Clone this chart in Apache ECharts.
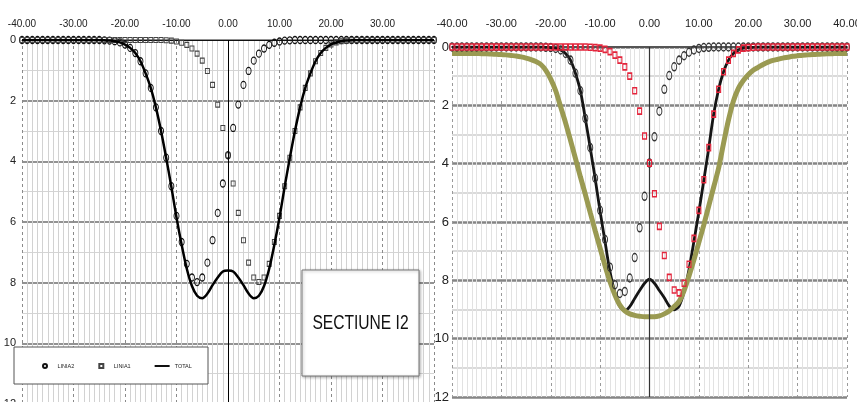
<!DOCTYPE html>
<html><head><meta charset="utf-8">
<script src="https://cdn.jsdelivr.net/npm/echarts@6/dist/echarts.min.js"></script>
<style>html,body{margin:0;padding:0;background:#fff}#c{width:857px;height:402px}</style>
</head><body><div id="c"></div>
<script>
// x positions (m)
const X_POS = [-40,-39,-38,-37,-36,-35,-34,-33,-32,-31,-30,-29,-28,-27,-26,-25,-24,-23,-22,-21,
  -20,-19,-18,-17,-16,-15,-14,-13,-12,-11,-10,-9,-8,-7,-6,-5,-4,-3,-2,-1,
  0,1,2,3,4,5,6,7,8,9,10,11,12,13,14,15,16,17,18,19,
  20,21,22,23,24,25,26,27,28,29,30,31,32,33,34,35,36,37,38,39,40];

// LEFT chart (SECTIUNE I2)
const L_LINIA2 = [0,0,0,0,0,0,0,0,0,0,0,0,0,0,0,0,
  0.01,0.02,0.04,0.08,0.15,0.26,0.43,0.7,1.1,1.58,
  2.22,3.0,3.88,4.82,5.8,6.66,7.38,7.83,7.98,7.83,
  7.34,6.6,5.7,4.73,3.8,2.9,2.13,1.48,1.02,0.68,
  0.45,0.28,0.16,0.09,0.05,0.02,0.01,
  0,0,0,0,0,0,0,0,0,0,0,0,0,0,0,0,0,0,0,0,0,0,0,0,0,0,0,0];
const L_LINIA1 = [0,0,0,0,0,0,0,0,0,0,0,0,0,0,0,0,0,0,0,0,0,0,0,0,0,0,0,0,
  0.01,0.02,0.05,0.09,0.16,0.28,0.45,0.68,1.02,1.48,
  2.13,2.9,3.8,4.73,5.7,6.6,7.34,7.83,7.98,7.83,
  7.38,6.66,5.8,4.82,3.88,3.0,2.22,1.58,1.1,0.7,
  0.43,0.26,0.15,0.08,0.04,0.02,0.01,
  0,0,0,0,0,0,0,0,0,0,0,0,0,0,0,0];
const L_TOTAL = [0,0,0,0,0,0,0,0,0,0,0,0,0,0,0,0,
  0.01,0.02,0.04,0.08,0.15,0.26,0.43,0.7,1.1,1.58,
  2.22,3.0,3.89,4.84,5.85,6.75,7.54,8.11,8.43,8.51,
  8.36,8.08,7.83,7.63,7.6,7.63,7.83,8.08,8.36,8.51,
  8.43,8.11,7.54,6.75,5.85,4.84,3.89,3.0,2.22,1.58,
  1.1,0.7,0.43,0.26,0.15,0.08,0.04,0.02,0.01,
  0,0,0,0,0,0,0,0,0,0,0,0,0,0,0,0];

// RIGHT chart
const R_LINIA2 = [0,0,0,0,0,0,0,0,0,0,0,0,0,0,0,0,0,0,0,
  0.01,0.02,0.05,0.1,0.22,0.45,0.9,1.5,2.45,3.45,
  4.5,5.6,6.6,7.55,8.15,8.45,8.38,7.92,7.22,6.2,
  5.12,3.98,3.08,2.2,1.45,0.98,0.68,0.45,0.3,0.18,
  0.1,0.05,0.02,0.01,
  0,0,0,0,0,0,0,0,0,0,0,0,0,0,0,0,0,0,0,0,0,0,0,0,0,0,0,0];
const R_LINIA1 = [0,0,0,0,0,0,0,0,0,0,0,0,0,0,0,0,0,0,0,0,0,0,0,0,0,0,0,0,
  0.01,0.02,0.04,0.08,0.16,0.28,0.45,0.68,1.0,1.5,
  2.2,3.05,3.98,5.03,6.15,7.15,7.9,8.33,8.43,8.1,
  7.45,6.56,5.6,4.55,3.45,2.3,1.45,0.85,0.45,0.22,
  0.1,0.04,0.02,0.01,
  0,0,0,0,0,0,0,0,0,0,0,0,0,0,0,0,0,0,0];
const R_TOTAL = [0,0,0,0,0,0,0,0,0,0,0,0,0,0,0,0,0,0,0,
  0.01,0.02,0.05,0.1,0.22,0.45,0.9,1.5,2.45,3.46,
  4.52,5.64,6.68,7.71,8.43,8.9,9.04,8.9,8.62,8.35,
  8.1,7.96,8.1,8.35,8.6,8.88,9.01,8.88,8.4,7.63,
  6.66,5.65,4.57,3.46,2.3,1.45,0.85,0.45,0.22,0.1,
  0.04,0.02,0.01,
  0,0,0,0,0,0,0,0,0,0,0,0,0,0,0,0,0,0,0];
const R_CONTUR = [0.22,0.22,0.22,0.22,0.22,0.22,0.23,0.23,0.24,0.25,
  0.26,0.27,0.29,0.31,0.34,0.38,0.43,0.5,0.6,0.8,
  1.1,1.5,2.05,2.6,3.2,3.82,4.45,5.05,5.68,6.3,
  6.9,7.5,8.05,8.5,8.85,9.05,9.15,9.2,9.23,9.25,
  9.25,9.25,9.22,9.15,9.05,8.9,8.72,8.35,7.85,7.3,
  6.7,6.1,5.45,4.8,4.15,3.3,2.5,1.85,1.42,1.15,
  0.95,0.8,0.7,0.6,0.52,0.46,0.42,0.38,0.35,0.32,
  0.3,0.28,0.27,0.26,0.25,0.24,0.23,0.23,0.22,0.22,0.22];

const LEGEND_NAMES = ['LINIA2', 'LINIA1', 'TOTAL'];
const TITLE_TEXT = 'SECTIUNE I2';

const FONT = "'Liberation Sans',Arial,sans-serif";
const pairs = a => X_POS.map((x, i) => [x, a[i]]);

function xAx(gi, o) {
  return {
    gridIndex: gi, type: 'value', min: -40, max: 40, interval: 10, position: 'top',
    axisLine: { show: true, onZero: false, lineStyle: { color: o.axisColor, width: o.axisWidth } },
    axisTick: { show: false },
    axisLabel: { formatter: v => v.toFixed(2), fontSize: o.fs, color: '#222', margin: o.margin, fontFamily: FONT,
      showMaxLabel: o.showMax },
    splitLine: { show: true, lineStyle: { color: o.major, type: [3, 3], width: 1 } },
    minorTick: { show: false, splitNumber: 10 },
    minorSplitLine: { show: true, lineStyle: { color: o.minor, width: 1 } }
  };
}
function yAx(gi, o) {
  return {
    gridIndex: gi, type: 'value', inverse: true, min: 0, max: 12, interval: 2,
    axisLine: { show: false }, axisTick: { show: false },
    axisLabel: { fontSize: o.fs, color: '#222', margin: o.margin, fontFamily: FONT },
    splitLine: { show: true, lineStyle: { color: o.major, width: o.majorW } },
    minorTick: { show: false, splitNumber: 2 },
    minorSplitLine: { show: true, lineStyle: { color: o.minor, width: o.minorW } }
  };
}

const chart = echarts.init(document.getElementById('c'), null, { renderer: 'canvas' });
chart.setOption({
  animation: false,
  backgroundColor: '#fff',
  grid: [
    { left: 22, top: 40, width: 412, height: 364, containLabel: false, outerBoundsMode: 'none' },
    { left: 452, top: 47, width: 395, height: 350, containLabel: false, outerBoundsMode: 'none' }
  ],
  xAxis: [
    xAx(0, { axisColor: '#111', axisWidth: 1, fs: 10, margin: 11, major: '#8a8a8a', minor: '#d2d2d2', showMax: false }),
    xAx(1, { axisColor: '#555', axisWidth: 2, fs: 11, margin: 18, major: '#9a9a9a', minor: '#e2e2e2', showMax: true })
  ],
  yAxis: [
    yAx(0, { fs: 11, margin: 6, major: '#6e6e6e', majorW: 1.5, minor: '#d4d4d4', minorW: 1 }),
    yAx(1, { fs: 13, margin: 3, major: '#858585', majorW: 2.5, minor: '#dadada', minorW: 2 })
  ],
  legend: {
    data: [
      { name: LEGEND_NAMES[0], icon: 'circle' },
      { name: LEGEND_NAMES[1], icon: 'path://M0,0h10v10h-10z' },
      { name: LEGEND_NAMES[2], icon: 'path://M0,0h40v5h-40z' }
    ],
    left: 42, top: 363, itemWidth: 15, itemHeight: 4, itemGap: 24,
    padding: 0, z: 10, selectedMode: false,
    textStyle: { fontSize: 5.5, color: '#222', fontFamily: FONT }
  },
  series: [
    { name: 'LINIA2', type: 'line', xAxisIndex: 0, yAxisIndex: 0, data: pairs(L_LINIA2),
      symbol: 'circle', symbolSize: [5, 7], showAllSymbol: true, lineStyle: { width: 0 },
      itemStyle: { color: 'rgba(255,255,255,0)', borderColor: '#111', borderWidth: 1.1 }, z: 3 },
    { name: 'LINIA1', type: 'line', xAxisIndex: 0, yAxisIndex: 0, data: pairs(L_LINIA1),
      symbol: 'rect', symbolSize: [4, 5], showAllSymbol: true, lineStyle: { width: 0 },
      itemStyle: { color: 'rgba(255,255,255,0)', borderColor: '#444', borderWidth: 1 }, z: 3 },
    { name: 'TOTAL', type: 'line', xAxisIndex: 0, yAxisIndex: 0, data: pairs(L_TOTAL),
      symbol: 'none', smooth: 0.3, lineStyle: { color: '#000', width: 2.5 }, itemStyle: { color: '#000' }, z: 4,
      markLine: { silent: true, symbol: 'none', label: { show: false },
        lineStyle: { color: '#000', width: 1, type: 'solid' }, data: [{ xAxis: 0 }] } },

    { name: 'Total dreapta', type: 'line', xAxisIndex: 1, yAxisIndex: 1, data: pairs(R_TOTAL),
      symbol: 'none', smooth: 0.3, lineStyle: { color: '#151515', width: 2.8 }, itemStyle: { color: '#151515' }, z: 3,
      markLine: { silent: true, symbol: 'none', label: { show: false },
        lineStyle: { color: '#333', width: 1.2, type: 'solid' }, data: [{ xAxis: 0 }] } },
    { name: 'Contur', type: 'line', xAxisIndex: 1, yAxisIndex: 1, data: pairs(R_CONTUR),
      symbol: 'none', smooth: 0.3, lineStyle: { color: '#9a9a52', width: 5 }, itemStyle: { color: '#9a9a52' }, z: 4 },
    { name: 'Linia2 dreapta', type: 'line', xAxisIndex: 1, yAxisIndex: 1, data: pairs(R_LINIA2),
      symbol: 'circle', symbolSize: [5, 8], showAllSymbol: true, lineStyle: { width: 0 },
      itemStyle: { color: 'rgba(255,255,255,0)', borderColor: '#333', borderWidth: 1.2 }, z: 5 },
    { name: 'Linia1 dreapta', type: 'line', xAxisIndex: 1, yAxisIndex: 1, data: pairs(R_LINIA1),
      symbol: 'rect', symbolSize: [4, 6], showAllSymbol: true, lineStyle: { width: 0 },
      itemStyle: { color: 'rgba(255,255,255,0)', borderColor: '#e3243b', borderWidth: 1.3 }, z: 6 }
  ],
  graphic: [
    { type: 'rect', shape: { x: 14, y: 347, width: 194, height: 37 },
      style: { fill: '#fff', stroke: '#555', lineWidth: 1 }, z: 5 },
    { type: 'rect', shape: { x: 302, y: 270, width: 117, height: 106 },
      style: { fill: '#fff', stroke: '#777', lineWidth: 1, shadowBlur: 3, shadowColor: 'rgba(0,0,0,0.3)', shadowOffsetX: 1, shadowOffsetY: 1 }, z: 5 },
    { type: 'text', x: 360.5, y: 323, scaleX: 0.78,
      style: { text: TITLE_TEXT, fontSize: 20, fontFamily: FONT, fill: '#111', align: 'center', verticalAlign: 'middle', textAlign: 'center', textVerticalAlign: 'middle' }, z: 6 }
  ]
});
</script></body></html>
